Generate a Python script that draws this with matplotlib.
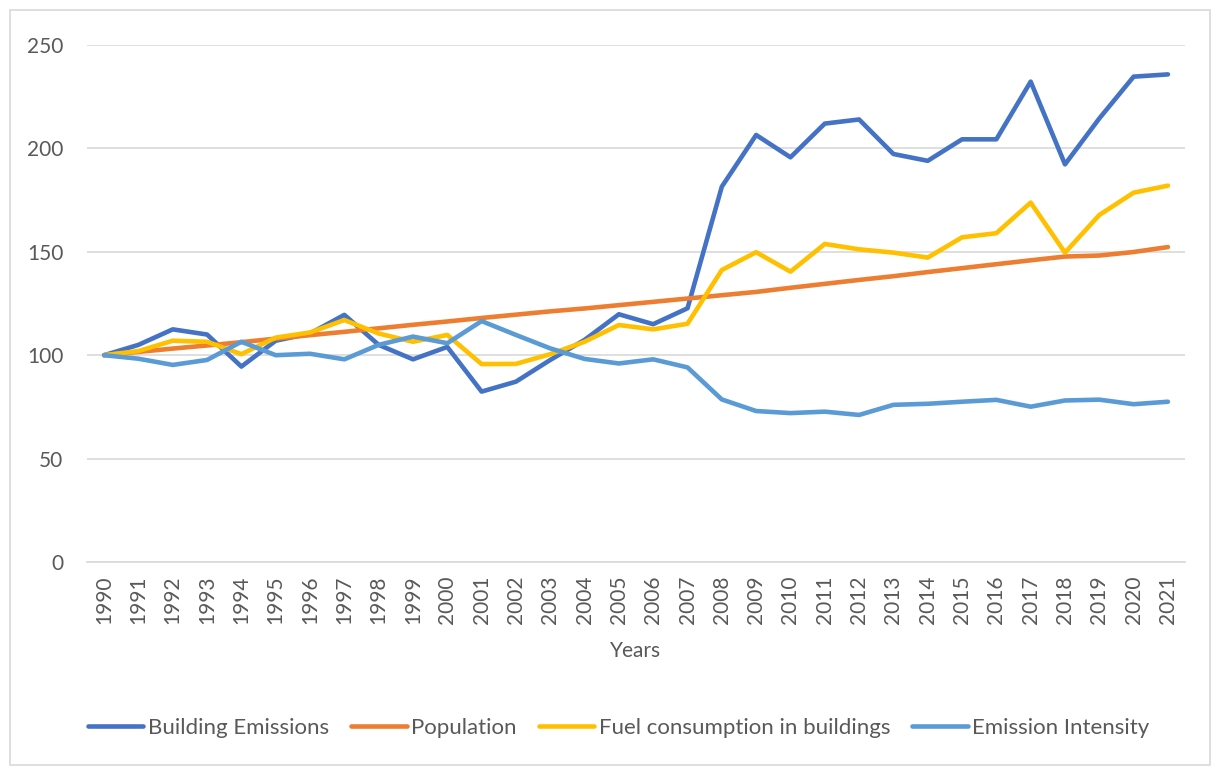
import numpy as np
import matplotlib.pyplot as plt
from matplotlib.patches import Rectangle

plt.rcParams['font.family'] = ['Lato', 'DejaVu Sans']

years = list(range(1990, 2022))

building_emissions = [100, 105, 112.5, 110, 94.5, 107, 110.5, 119.5, 105, 98,
                      104, 82.4, 87.2, 97.7, 107.4, 119.8, 115, 122.7, 181.5, 206.5,
                      195.7, 212, 214, 197.3, 194, 204.4, 204.4, 232.3, 192.3, 214.5,
                      234.7, 235.8]
population = [100, 101.6, 103.2, 104.7, 106.3, 108, 109.7, 111.3, 113, 114.7,
              116.3, 118, 119.6, 121.2, 122.6, 124.2, 125.8, 127.4, 129, 130.6,
              132.6, 134.5, 136.4, 138.2, 140.2, 142.1, 144, 145.9, 147.7, 148.2,
              149.9, 152.3]
fuel_consumption = [100, 102, 107, 106.5, 100.5, 108.5, 111, 117, 110.5, 106.5,
                    109.8, 95.7, 95.8, 100.5, 106.5, 114.6, 112.5, 115.2, 141.2, 149.8,
                    140.4, 153.8, 151.2, 149.6, 147.2, 157, 159, 173.8, 149.6, 167.8,
                    178.6, 182]
emission_intensity = [100, 98.3, 95.3, 97.7, 106.5, 100, 100.7, 98, 105, 109,
                      105.8, 116.5, 109.8, 103.3, 98.2, 96, 98, 94.1, 78.6, 73,
                      72, 72.7, 71.1, 76, 76.5, 77.5, 78.4, 75.1, 78.1, 78.5,
                      76.3, 77.5]

series = [
    ('Building Emissions', building_emissions, '#4472C4'),
    ('Population', population, '#ED7D31'),
    ('Fuel consumption in buildings', fuel_consumption, '#FFC000'),
    ('Emission Intensity', emission_intensity, '#5B9BD5'),
]

text_color = '#595959'
grid_color = '#D9D9D9'

fig = plt.figure(figsize=(12.13, 7.67), dpi=100)
ax = fig.add_axes([0.0717, 0.2673, 0.9053, 0.674])

x = np.arange(len(years))
for name, vals, color in series:
    ax.plot(x, vals, color=color, lw=3.3, label=name,
            solid_joinstyle='round', solid_capstyle='round')

ax.set_xlim(-0.5, len(years) - 0.5)
ax.set_ylim(0, 250)
ax.set_yticks([0, 50, 100, 150, 200, 250])
ax.set_xticks(x)
ax.set_xticklabels([str(y) for y in years], rotation=90)
ax.tick_params(axis='both', length=0, labelsize=15, colors=text_color)
ax.tick_params(axis='y', pad=17)
ax.tick_params(axis='x', pad=10)
ax.grid(axis='y', color=grid_color, lw=1.2)
ax.set_axisbelow(True)
for s in ['top', 'right', 'left']:
    ax.spines[s].set_visible(False)
ax.spines['bottom'].set_color(grid_color)
ax.spines['bottom'].set_linewidth(1.2)

ax.set_xlabel('Years', fontsize=15, color=text_color, labelpad=12)

fig.legend(loc='center', bbox_to_anchor=(0.51, 1 - 728 / 767), ncol=4,
           frameon=False, fontsize=16, handlelength=2.5, columnspacing=1.0,
           handletextpad=0.2, labelcolor=text_color)

fig.patches.append(Rectangle((10 / 1213, 2 / 767), 1200 / 1213, 755 / 767,
                             transform=fig.transFigure, fill=False,
                             edgecolor=grid_color, lw=1.2))

fig.savefig('out.png', dpi=100)
